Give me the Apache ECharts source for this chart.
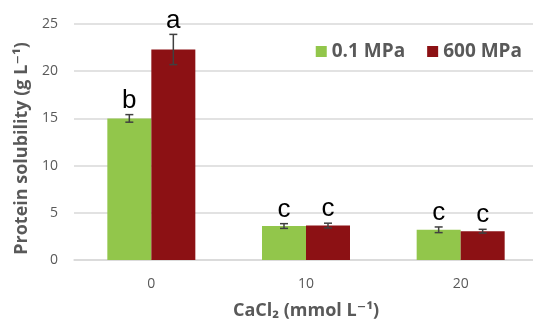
<!DOCTYPE html>
<html>
<head>
<meta charset="utf-8">
<script src="https://cdn.jsdelivr.net/npm/echarts@6/dist/echarts.min.js"></script>
<style>
  html, body { margin: 0; padding: 0; background: #fff; }
  #chart { width: 533px; height: 321px; }
</style>
</head>
<body>
<div id="chart"></div>
<script>
// values
const categories = ['0', '10', '20'];
const seriesNames = ['0.1 MPa', '600 MPa'];
const lowPressure = [15.0, 3.6, 3.2];
const highPressure = [22.3, 3.65, 3.05];
const lowErr = [0.4, 0.25, 0.3];
const highErr = [1.6, 0.25, 0.2];
const lowLetters = ['b', 'c', 'c'];
const highLetters = ['a', 'c', 'c'];

const GREEN = '#92c64b';
const RED = '#8c1114';
const BAR_W = 44;
const FONT = '"Open Sans", "DejaVu Sans", sans-serif';

function errorSeries(values, errs, letters, offset) {
  return {
    type: 'custom',
    silent: true,
    z: 5,
    data: values.map((v, i) => [i, v, errs[i]]),
    renderItem: (params, api) => {
      const i = api.value(0);
      const v = api.value(1);
      const e = api.value(2);
      const top = api.coord([i, v + e]);
      const bot = api.coord([i, v - e]);
      const x = top[0] + offset;
      const cap = 4;
      const stroke = { stroke: '#404040', lineWidth: 1.5 };
      return {
        type: 'group',
        children: [
          { type: 'line', shape: { x1: x, y1: top[1], x2: x, y2: bot[1] }, style: stroke },
          { type: 'line', shape: { x1: x - cap, y1: top[1], x2: x + cap, y2: top[1] }, style: stroke },
          { type: 'line', shape: { x1: x - cap, y1: bot[1], x2: x + cap, y2: bot[1] }, style: stroke },
          {
            type: 'text',
            style: {
              x: x, y: top[1] - 1,
              text: letters[params.dataIndex],
              align: 'center', verticalAlign: 'bottom',
              fontSize: 26, fontFamily: '"Liberation Sans", Arial, sans-serif',
              fill: '#000'
            }
          }
        ]
      };
    }
  };
}

const chart = echarts.init(document.getElementById('chart'));
chart.setOption({
  animation: false,
  backgroundColor: '#fff',
  grid: { left: 74, right: -5, top: 24, bottom: 61, outerBoundsMode: 'none', containLabel: false },
  legend: {
    data: seriesNames,
    top: 37, right: 6,
    itemWidth: 11, itemHeight: 11, itemGap: 22,
    icon: 'rect',
    textStyle: { fontSize: 19, fontWeight: 'bold', color: '#595959', fontFamily: FONT }
  },
  xAxis: {
    type: 'category',
    data: categories,
    axisTick: { show: false },
    axisLine: { lineStyle: { color: '#d9d9d9', width: 1.5 } },
    axisLabel: { fontSize: 14, color: '#595959', margin: 17, fontFamily: FONT },
    name: 'CaCl\u2082 (mmol L\u207b\u00b9)',
    nameLocation: 'middle',
    nameGap: 42,
    nameTextStyle: { fontSize: 18, fontWeight: 'bold', color: '#595959', fontFamily: FONT }
  },
  yAxis: {
    type: 'value',
    min: 0, max: 25, interval: 5,
    axisLine: { show: false },
    axisTick: { show: false },
    splitLine: { lineStyle: { color: '#d9d9d9', width: 1.5 } },
    axisLabel: { fontSize: 14, color: '#595959', margin: 16, fontFamily: FONT },
    name: 'Protein solubility (g L\u207b\u00b9)',
    nameLocation: 'middle',
    nameGap: 40,
    nameTextStyle: {
      fontSize: 18, fontWeight: 'bold', color: '#595959', fontFamily: FONT,
      padding: [0, 13, 0, 0]
    }
  },
  series: [
    {
      name: seriesNames[0], type: 'bar', data: lowPressure,
      barWidth: BAR_W, barGap: '0%',
      itemStyle: { color: GREEN }
    },
    {
      name: seriesNames[1], type: 'bar', data: highPressure,
      barWidth: BAR_W, barGap: '0%',
      itemStyle: { color: RED }
    },
    errorSeries(lowPressure, lowErr, lowLetters, -BAR_W / 2),
    errorSeries(highPressure, highErr, highLetters, BAR_W / 2)
  ]
});
</script>
</body>
</html>
